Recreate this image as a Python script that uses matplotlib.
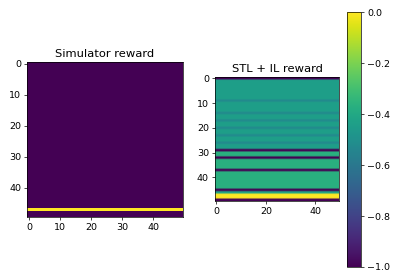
import numpy as np
import matplotlib
matplotlib.use("Agg")
import matplotlib.pyplot as plt

n = 50

# Simulator reward: -1 everywhere, 0 on row 47
sim_rows = [-1.0] * n
sim_rows[47] = 0.0

# STL + IL reward: value per row (constant over columns)
stl_rows = [-0.44] * n
for r in [9, 14, 17, 20, 23, 26]:
    stl_rows[r] = -0.52
for r in [30, 31, 33, 34, 35, 36, 38, 39, 40, 41, 42, 43, 44]:
    stl_rows[r] = -0.37
for r in [0, 29, 32, 37, 45, 49]:
    stl_rows[r] = -1.0
stl_rows[46] = -0.42
stl_rows[47] = 0.0
stl_rows[48] = 0.0

sim = np.tile(np.array(sim_rows)[:, None], (1, n))
stl = np.tile(np.array(stl_rows)[:, None], (1, n))

plt.rcParams["font.size"] = 11

fig = plt.figure(figsize=(6.4, 4.448), dpi=62.5)

ax1 = fig.add_axes([0.0675, 0.2194, 0.39, 0.5576])
ax1.imshow(sim, cmap="viridis", vmin=-1, vmax=0)
ax1.set_title("Simulator reward")

ax2 = fig.add_axes([0.5375, 0.277, 0.31, 0.446])
im = ax2.imshow(stl, cmap="viridis", vmin=-1, vmax=0)
ax2.set_title("STL + IL reward")

cax = fig.add_axes([0.8675, 0.0396, 0.035, 0.917])
fig.colorbar(im, cax=cax)

fig.savefig("out.png", dpi=62.5)
